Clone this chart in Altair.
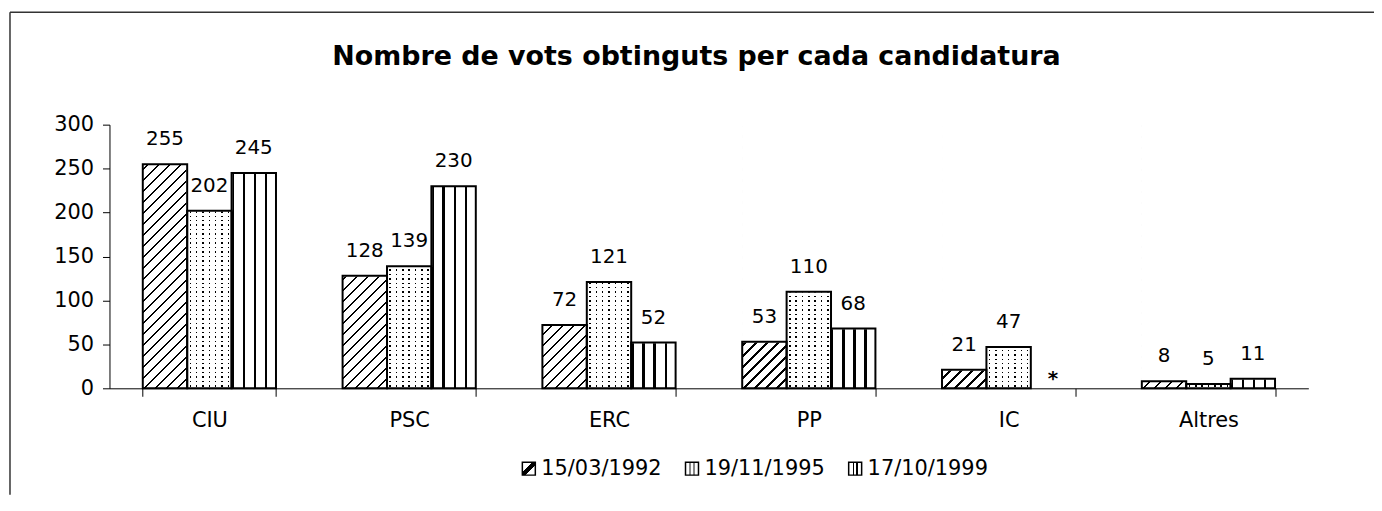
import json
import altair as alt
import pandas as pd

# ---------------- data ----------------
parties = ["CIU", "PSC", "ERC", "PP", "IC", "Altres"]
series = ["15/03/1992", "19/11/1995", "17/10/1999"]
v1992 = [255, 128, 72, 53, 21, 8]
v1995 = [202, 139, 121, 110, 47, 5]
v1999 = [245, 230, 52, 68, None, 11]
y_ticks = [0, 50, 100, 150, 200, 250, 300]
title_text = "Nombre de vots obtinguts per cada candidatura"
missing_mark = "*"

rows = []
for s, vals in zip(series, [v1992, v1995, v1999]):
    for p, v in zip(parties, vals):
        rows.append({"party": p, "series": s, "value": v})
df = pd.DataFrame(rows)

# ---------------- layout / style ----------------
W, H = 1205, 265
FONT = "DejaVu Sans"
BAR_W = W / 6 * (2 / 3) / 3
VALID = "isValid(datum.value)"
INVALID = "!isValid(datum.value)"
CLEAR = "rgba(255,255,255,0)"


def stripes(n, frac, ink, paper, center=False):
    out = []
    for i in range(n):
        a = i / n
        p = 1 / n
        if center:
            b = a + p * (1 - frac) / 2
            c = a + p * (1 + frac) / 2
            out += [(a, paper), (b, paper), (b, ink), (c, ink), (c, paper), (a + p, paper)]
        else:
            b = a + p * frac
            out += [(a, ink), (b, ink), (b, paper), (a + p, paper)]
    return [{"offset": min(1.0, round(o, 6)), "color": c} for o, c in out]


def lin(gid, x2, y2, stops):
    return {"gradient": "linear", "id": gid, "x1": 0, "y1": 0, "x2": x2, "y2": y2, "stops": stops}


def bands(gid, x2, y2, ink, cuts):
    st = [{"offset": 0, "color": "white"}]
    for a, b in cuts:
        st += [{"offset": a, "color": "white"}, {"offset": a, "color": ink},
               {"offset": b, "color": ink}, {"offset": b, "color": "white"}]
    st.append({"offset": 1, "color": "white"})
    return lin(gid, x2, y2, st)


w, h = BAR_W, H
hx2 = w * (w + h) / (w * w + h * h)
hy2 = h * (w + h) / (w * w + h * h)
hatch_fill = lin("pat_hatch", hx2, hy2, stripes(28, 0.22, "black", "white"))
vstripe_fill = bands("pat_vstripe", 1, 0, "black",
                     [(0.0, 0.055), (0.25, 0.305), (0.5, 0.555), (0.75, 0.805)])
dots_rows = lin("pat_dot_rows", 0, 1, stripes(59, 0.33, CLEAR, "white", center=True))
dots_cols = lin("pat_dot_cols", 1, 0, stripes(7, 0.24, CLEAR, "white", center=True))

sw_hatch = bands("sw_hatch", 1, 1, "black", [(0.40, 0.60)])
sw_dots = bands("sw_dots", 1, 0, "#888", [(0.28, 0.40), (0.60, 0.72)])
sw_stripes = bands("sw_stripes", 1, 0, "black", [(0.30, 0.42), (0.58, 0.70)])


def X():
    return alt.X("party:N", title=None,
                 scale=alt.Scale(domain=parties, paddingInner=1 / 3, paddingOuter=1 / 6),
                 axis=alt.Axis(tickBand="extent", labelAngle=0, labelFontSize=21, labelFont=FONT,
                               labelColor="black", labelPadding=13, tickSize=8, tickColor="black",
                               domainColor="black", tickWidth=1, domainWidth=1))


def XO():
    return alt.XOffset("series:N", scale=alt.Scale(domain=series, paddingInner=0, paddingOuter=0))


def Y(field):
    return alt.Y(f"{field}:Q", title=None, stack=None,
                 scale=alt.Scale(domain=[0, 300], nice=False, zero=True),
                 axis=alt.Axis(values=y_ticks, grid=False, labelFontSize=21, labelFont=FONT,
                               labelColor="black", labelPadding=9, tickSize=7, tickColor="black",
                               domainColor="black", tickWidth=1, domainWidth=1))


base = alt.Chart(df)
full = base.transform_filter(VALID).transform_calculate(top="300", bottom="0")

legend_src = full.mark_square(size=1, stroke="black", strokeWidth=0.5).encode(
    x=X(), xOffset=XO(), y=Y("bottom"),
    fill=alt.Fill("series:N",
                  scale=alt.Scale(domain=series,
                                  range=[{"expr": json.dumps(g)} for g in (sw_hatch, sw_dots, sw_stripes)]),
                  legend=alt.Legend(title=None, orient="none", legendX=411, legendY=335,
                                    direction="horizontal", symbolType="square", symbolSize=170,
                                    symbolStrokeColor="black", symbolStrokeWidth=1.5, symbolOpacity=1,
                                    labelFont=FONT, labelFontSize=21, labelColor="black",
                                    labelOffset=2, columnPadding=19, padding=0)))


def pattern(series_name, fill):
    return full.transform_filter(alt.datum.series == series_name).mark_bar(fill=fill).encode(
        x=X(), xOffset=XO(), y=Y("top"), y2=alt.Y2("bottom:Q"))


pat_hatch = pattern(series[0], hatch_fill)
pat_stripes = pattern(series[2], vstripe_fill)
pat_dots_base = pattern(series[1], "black")
pat_dots_rows = pattern(series[1], dots_rows)
pat_dots_cols = pattern(series[1], dots_cols)

covers = full.mark_bar(fill="white", stroke="white", strokeWidth=1.5).encode(
    x=X(), xOffset=XO(), y=Y("value"), y2=alt.Y2("top:Q"))

outlines = base.transform_filter(VALID).mark_bar(fillOpacity=0, stroke="black", strokeWidth=2).encode(
    x=X(), xOffset=XO(), y=Y("value"))

labels = base.transform_filter(VALID).mark_text(
    font=FONT, fontSize=20, color="black", baseline="alphabetic", dy=-19).encode(
    x=X(), xOffset=XO(), y=Y("value"), text=alt.Text("value:Q", format="d"))

star = base.transform_filter(INVALID).transform_calculate(zero="0").mark_text(
    text=missing_mark, font=FONT, fontSize=20, fontWeight="bold", color="black",
    baseline="alphabetic", dy=-3).encode(x=X(), xOffset=XO(), y=Y("zero"))

one = alt.Chart(pd.DataFrame({"k": [0]}))
title = one.mark_text(text=title_text, font=FONT, fontSize=27, fontWeight="bold", color="black",
                      align="center", baseline="alphabetic").encode(x=alt.value(590), y=alt.value(-60))
frame_top = one.mark_rule(color="#333", strokeWidth=1.5).encode(
    x=alt.value(-100), x2=alt.value(W + 66), y=alt.value(-113))
frame_left = one.mark_rule(color="#333", strokeWidth=1.5).encode(
    x=alt.value(-100), y=alt.value(-113), y2=alt.value(H + 107))

chart = alt.layer(
    legend_src, pat_hatch, pat_stripes, pat_dots_base, pat_dots_rows, pat_dots_cols,
    covers, outlines, labels, star, title, frame_top, frame_left
).properties(
    width=W, height=H,
    autosize=alt.AutoSizeParams(type="none"),
    padding={"left": 102, "top": 116, "right": 66, "bottom": 107},
).configure(font=FONT).configure_view(stroke=None)

chart.save("out.html", embed_options={"renderer": "svg", "actions": False})
